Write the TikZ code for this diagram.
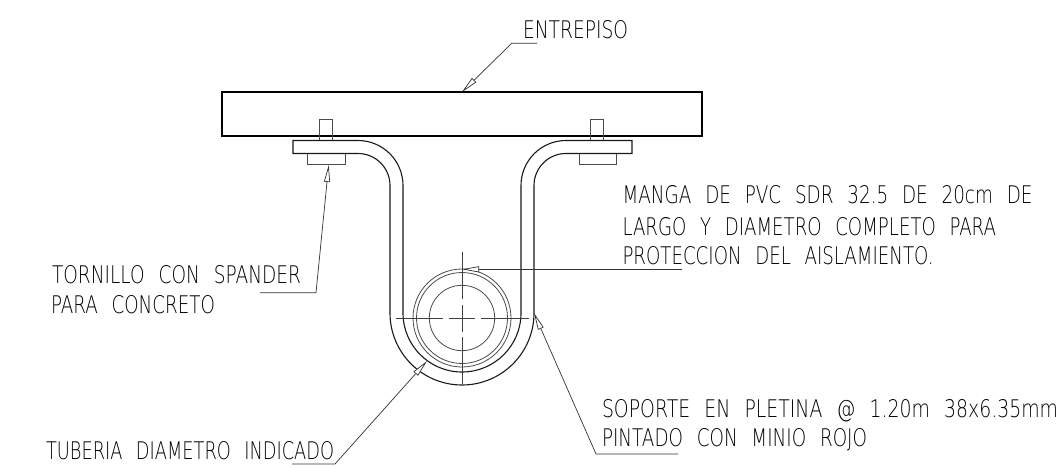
\documentclass[tikz,border=0pt]{standalone}
\usepackage{fontspec}
\usepackage{graphicx}
\setmainfont{DejaVu Sans ExtraLight}
\usetikzlibrary{arrows.meta}
\tikzset{
  heavy/.style={line width=2pt,draw=black},
  strap/.style={line width=1.1pt,black!90},
  thin part/.style={line width=0.8pt,black!70},
  leader/.style={line width=0.7pt,black!80},
  tipped/.style={leader,-{Triangle[open,fill=white,length=17pt,width=6pt,line width=0.7pt]}},
  centre/.style={line width=0.8pt,black!75},
  lab/.style={anchor=base west,inner sep=0pt,outer sep=0pt,text=black}
}
\newcommand{\lbl}[3]{\resizebox{#1pt}{#2pt}{#3}}
\newcommand{\gp}{\hspace{0.75em}}
\begin{document}
\begin{tikzpicture}[x=1pt,y=-1pt]
\useasboundingbox (0,0) rectangle (1062,467);
% slab
\node[heavy,inner sep=0pt,outer sep=0pt,minimum width=480pt,minimum height=44pt] (slab) at (462,114) {};
% bolts
\draw[thin part] (319.5,140.5) -- (319.5,119.5) -- (332.5,119.5) -- (332.5,140.5);
\draw[thin part] (590.5,140.5) -- (590.5,119.5) -- (603.5,119.5) -- (603.5,140.5);
% washers
\draw[thin part] (307.5,153.5) -- (307.5,164) -- (345,164) -- (345,153.5);
\draw[thin part] (579,153.5) -- (579,164) -- (616,164) -- (616,153.5);
% strap
\draw[strap] (358,153.5) -- (293,153.5) -- (293,140.5) -- (358,140.5)
  arc[start angle=-90,end angle=0,radius=45] -- (403,313)
  arc[start angle=180,end angle=0,radius=59] -- (521,185.5)
  arc[start angle=180,end angle=270,radius=45] -- (632,140.5) -- (632,153.5) -- (566,153.5)
  arc[start angle=270,end angle=180,radius=32] -- (534,313)
  arc[start angle=0,end angle=180,radius=72] -- (390,185.5)
  arc[start angle=0,end angle=-90,radius=32];
% pipe
\coordinate (pipe) at (462,318);
\draw[thin part] (pipe) circle[radius=49];
\draw[thin part] (pipe) circle[radius=45.5];
\draw[thin part] (pipe) circle[radius=32.7];
% centre lines
\draw[centre] (395.7,318) -- (443.3,318) (448.7,318) -- (475.3,318) (481,318) -- (529,318);
\draw[centre] (462,251.7) -- (462,299.3) (462,305) -- (462,331.5) (462,337.3) -- (462,384);
% leaders
\node[lab] (t1) at (523,38) {\lbl{105}{18}{ENTREPISO}};
\coordinate (e1) at (537,43.3); \coordinate (e2) at (511.7,43.3);
\draw[tipped] (e1) -- (e2) -- (slab.north);
\node[lab] (t2) at (622.5,203) {\lbl{410}{18}{MANGA\gp DE\gp PVC\gp SDR\gp 32.5\gp DE\gp 20cm\gp DE}};
\node[lab] (t3) at (622.5,235) {\lbl{373.5}{18}{LARGO\gp Y\gp DIAMETRO\gp COMPLETO\gp PARA}};
\node[lab] (t4) at (622.5,264) {\lbl{311}{18}{PROTECCION\gp DEL\gp AISLAMIENTO.}};
\coordinate (m1) at (681.7,269.3); \coordinate (m2) at (462,269.3);
\draw[tipped] (m1) -- (m2);
\node[lab] (t5) at (52,283) {\lbl{249}{18}{TORNILLO\gp CON\gp SPANDER}};
\node[lab] (t6) at (51,313) {\lbl{164}{18}{PARA\gp CONCRETO}};
\coordinate (s1) at (260,292.7); \coordinate (s2) at (316,292.7); \coordinate (s3) at (328.7,165);
\draw[tipped] (s1) -- (s2) -- (s3);
\node[lab] (t7) at (46,459) {\lbl{288}{18}{TUBERIA\gp DIAMETRO\gp INDICADO}};
\coordinate (b1) at (292,464); \coordinate (b2) at (335,464); \coordinate (b3) at (427,361);
\draw[tipped] (b1) -- (b2) -- (b3);
\node[lab] (t8) at (602,417) {\lbl{456}{18}{SOPORTE\gp EN\gp PLETINA\gp @\gp 1.20m\gp 38x6.35mm}};
\node[lab] (t9) at (602,446.5) {\lbl{265}{18}{PINTADO\gp CON\gp MINIO\gp ROJO}};
\coordinate (p1) at (678,454); \coordinate (p2) at (596,454); \coordinate (p3) at (534,313);
\draw[tipped] (p1) -- (p2) -- (p3);
\end{tikzpicture}
\end{document}
